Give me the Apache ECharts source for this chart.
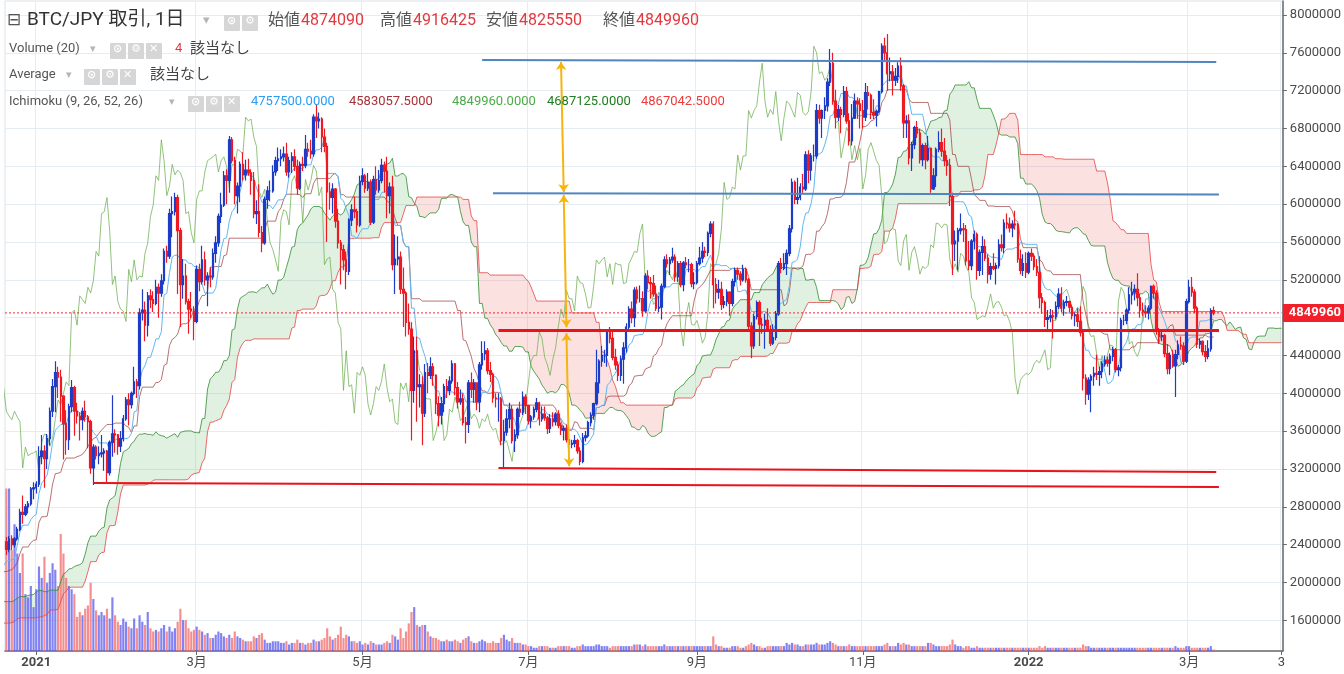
<!DOCTYPE html>
<html><head><meta charset="utf-8">
<script src="https://cdn.jsdelivr.net/npm/echarts@6/dist/echarts.min.js"></script>
<style>html,body{margin:0;padding:0;background:#fff}#c{width:1344px;height:674px}</style>
</head><body><div id="c"></div>
<script>
// ---------- DATA (prices in 万円 = 10,000 JPY) ----------
const startDate = '2020-10-05';
const visibleFrom = '2020-12-21';
const close = [
114,112,113,115,117,119,120,122,121,121,121,119,120,121,124,126,135,137,136,138,138,138,144,140,142,143,145,
144,142,147,148,163,163,155,162,160,160,164,170,171,168,167,175,184,186,186,195,196,193,192,200,196,179,179,185,190,205,
195,199,202,194,198,201,199,190,192,189,187,195,199,200,201,221,236,240,247,243,
235,246,240,246,256,274,272,280,283,299,300,
304,333,339,331,352,381,407,422,417,397,368,351,386,406,381,376,372,381,375,370,321,343,334,336,337,339,316,348,357,356,344,
352,373,393,388,400,412,408,485,488,472,503,499,495,512,506,519,550,545,590,592,607,572,515,524,497,489,487,476,
531,518,541,520,524,523,548,559,587,599,630,625,668,646,609,619,642,631,636,633,625,590,592,570,559,605,614,614,634,646,648,
650,653,634,646,650,640,617,642,641,658,656,653,692,688,690,671,661,613,607,616,582,559,552,541,529,583,594,592,578,624,
630,617,623,581,626,615,625,641,635,609,618,536,542,544,510,506,475,468,403,445,407,409,379,422,419,428,419,389,377,389,407,
403,413,431,406,391,394,369,367,411,404,411,391,430,442,445,424,420,395,394,394,350,359,373,383,350,356,383,380,396,387,
371,375,383,390,373,378,374,363,373,370,378,366,361,363,351,346,347,350,339,328,353,355,369,377,389,411,434,440,440,465,458,
438,430,419,436,448,470,489,480,509,500,500,487,524,517,516,505,490,491,513,541,537,541,544,523,537,515,538,536,536,516,517,
537,543,550,549,569,579,515,507,510,494,497,507,495,518,530,526,520,531,520,471,450,481,496,473,472,477,467,453,459,484,
537,532,537,548,574,623,605,607,618,616,652,636,651,651,699,691,699,704,729,749,709,692,700,695,719,688,667,691,709,706,699,
692,718,715,697,694,698,719,767,760,738,740,731,735,746,725,686,688,649,663,681,675,647,662,647,659,616,630,658,665,656,
646,641,608,558,561,572,574,573,540,535,561,568,530,549,555,543,526,534,532,535,557,554,580,579,575,579,578,542,530,537,528,
548,545,534,528,501,496,478,480,482,481,492,505,490,496,497,491,482,483,476,464,416,399,414,418,421,420,423,431,435,432,439,
446,425,427,477,477,488,504,507,510,501,488,486,485,490,513,506,466,460,461,442,426,440,429,441,451,450,434,497,
512,507,490,452,455,444,439,447,487.409,484.996
];
const high = [
116,116,115,117,119,121,122,124,124,123,123,123,122,123,126,128,137,139,139,140,140,141,146,146,144,145,147,
148,147,150,151,166,167,166,165,166,163,167,173,174,174,171,178,187,190,189,198,200,199,197,203,204,199,184,188,193,208,
208,202,205,205,201,204,204,202,195,195,192,198,202,203,204,224,240,244,251,250,
248,249,250,248,259,278,292,283,286,301,306,
307,344,356,345,357,385,415,434,428,425,398,382,389,414,408,390,380,385,392,377,372,346,345,344,356,342,340,350,398,362,357,
360,377,396,400,402,428,415,490,510,497,507,510,508,520,516,526,553,556,595,608,612,610,575,542,537,500,507,492,
535,537,556,550,528,533,553,566,590,612,635,637,672,671,650,623,645,655,647,648,637,634,604,621,577,608,619,625,641,650,660,
658,661,665,650,655,658,647,645,650,673,665,668,695,705,697,692,680,665,623,622,617,595,562,557,550,585,600,608,595,630,
638,632,633,626,630,640,636,648,645,650,623,630,568,566,550,533,508,495,475,460,460,420,418,431,432,438,432,420,397,396,410,
415,418,435,432,412,404,400,375,414,422,415,411,433,455,455,448,433,422,400,400,396,372,383,390,387,362,385,391,402,399,
388,377,386,395,391,386,386,376,378,380,380,382,369,366,367,356,351,356,352,343,358,360,371,380,390,446,436,450,446,468,470,
465,447,434,440,454,474,492,497,512,513,514,508,527,530,523,525,514,503,516,545,547,544,554,547,540,540,540,544,542,538,528,
540,555,560,555,571,582,582,522,520,518,503,510,508,521,533,533,529,536,533,522,475,484,498,498,480,484,490,472,473,487,
540,543,548,552,578,627,625,628,622,632,656,657,654,663,706,705,700,713,733,764,760,721,705,703,725,724,696,706,717,713,712,
710,728,725,717,711,700,720,770,776,780,755,747,744,750,755,727,694,695,666,683,688,680,664,665,672,660,638,660,677,680,
670,652,648,612,572,575,590,580,578,561,563,572,570,552,566,563,547,538,548,538,563,568,584,590,586,583,593,580,552,547,549,
550,553,548,542,545,506,498,488,489,488,497,511,512,499,503,498,494,486,490,492,466,420,417,420,428,441,428,434,440,439,442,
449,448,430,480,483,490,512,518,515,527,505,496,493,493,514,515,509,469,465,463,452,443,446,446,456,460,454,500,
520,523,510,492,458,456,451,456,490,491.6425
];
const low = [
112,110,110,111,113,115,117,118,119,119,119,117,117,119,119,122,124,133,134,134,136,135,136,138,138,140,141,
141,139,139,144,145,159,152,152,157,157,157,161,167,165,164,164,172,181,183,183,192,190,189,189,193,172,174,176,182,187,
190,192,196,191,191,195,196,187,185,186,183,185,193,196,197,199,219,232,237,238,
229,232,234,237,244,254,262,270,273,281,288,
294,301,325,300,320,345,375,380,395,370,330,335,340,380,355,368,350,361,370,342,315,303,330,325,332,318,306,313,333,337,335,
338,349,371,366,384,398,395,404,477,455,460,490,486,493,480,502,515,538,542,565,588,505,470,500,494,463,480,456,
474,508,515,514,492,512,520,538,555,580,597,600,612,643,600,590,602,625,625,630,610,585,579,565,549,557,595,603,612,630,635,
640,645,630,628,633,635,610,615,635,638,650,648,650,670,680,655,655,560,594,590,575,553,515,530,510,525,577,585,570,576,
620,612,614,578,579,610,612,622,612,585,590,530,505,535,505,470,460,462,350,390,370,385,345,375,400,415,408,378,365,367,380,
395,398,410,398,384,388,366,347,358,395,390,382,380,425,435,420,412,390,385,370,345,320,355,363,347,338,352,375,377,378,
367,363,372,380,366,370,371,357,358,365,366,363,356,350,348,342,342,343,336,324,326,349,353,365,372,387,400,428,432,428,453,
435,425,413,413,410,443,465,474,470,495,496,481,485,510,500,502,487,486,478,511,533,525,538,518,518,512,508,532,528,512,510,
515,535,538,544,545,565,490,495,500,488,490,492,482,492,513,520,514,518,517,465,437,447,478,450,463,447,465,450,451,456,
482,527,530,525,545,570,600,600,604,612,614,622,625,645,648,685,670,690,698,725,705,680,688,675,692,685,662,662,690,690,680,
680,688,700,690,690,682,696,717,752,720,730,715,725,728,720,670,670,642,635,658,670,643,640,637,645,612,615,618,655,650,
640,630,598,525,540,530,568,560,535,530,530,552,520,524,525,540,516,520,530,515,532,550,548,574,570,565,573,538,526,524,522,
526,540,530,524,490,484,470,466,475,458,478,489,486,482,492,486,478,471,470,460,403,388,393,380,408,414,408,416,428,428,419,
434,422,418,423,472,473,484,494,498,492,480,482,480,478,488,500,462,452,455,438,420,420,427,396,436,446,430,432,
495,502,485,448,447,440,433,436,444,482.555
];
// relative volume (100 = tallest bar), from 2020-12-21
const volume = [
100,100,62,78,60,48,60,35,33,40,27,
38,52,45,58,42,48,54,50,40,72,60,45,40,38,35,21,24,22,26,28,42,32,25,22,24,22,26,20,33,22,18,
16,20,18,15,14,20,14,22,18,16,24,14,12,13,12,14,16,12,15,12,14,18,26,19,19,14,12,13,
15,13,12,10,11,8,8,10,12,11,9,8,10,8,12,9,8,7,6,6,6,9,8,10,11,7,5,5,6,6,6,
5,5,6,4,5,5,7,5,5,4,5,5,7,6,6,7,8,14,9,7,8,10,15,8,10,9,6,6,5,6,
4,5,4,6,5,4,4,4,5,6,5,10,9,7,14,8,12,17,24,27,16,15,16,16,12,9,8,8,7,6,6,
7,6,6,7,6,5,7,8,9,6,5,5,6,7,6,5,5,6,5,5,8,10,7,6,8,5,5,5,4,4,
3,3,2,2,3,3,3,3,2,2,2,3,3,3,3,3,2,2,3,3,4,3,3,3,3,4,4,3,3,3,2,
3,3,3,3,3,3,3,3,4,4,4,3,4,3,3,3,3,3,3,4,3,3,3,3,3,3,3,3,3,3,3,
3,3,3,3,3,3,9,4,3,3,2,2,2,3,3,3,2,2,3,4,5,4,3,3,2,2,3,3,3,3,
3,3,3,5,4,5,4,4,3,3,4,4,4,4,5,4,4,4,5,6,5,4,3,3,3,3,4,3,3,3,3,
3,3,3,3,3,3,3,3,4,5,3,3,3,5,4,5,4,4,3,3,3,3,3,3,5,5,4,3,3,3,
3,3,4,7,4,3,3,2,3,3,2,2,3,2,2,2,2,2,2,2,2,2,2,2,2,2,2,2,2,2,2,
2,2,2,2,3,2,3,2,2,2,2,2,2,2,2,2,2,2,2,2,4,3,3,2,2,2,2,2,2,2,2,
2,2,2,2,2,2,2,2,2,2,2,2,2,2,2,2,2,2,2,2,2,2,2,3,2,2,2,3,
3,2,2,2,2,2,2,2,3,1
];
const yTicks = [1600000,2000000,2400000,2800000,3200000,3600000,4000000,4400000,4800000,5200000,5600000,6000000,6400000,6800000,7200000,7600000,8000000];
const xTickDates  = ['2021-01-01','2021-03-01','2021-05-01','2021-07-01','2021-09-01','2021-11-01','2022-01-01','2022-03-01','2022-04-04'];
const xTickLabels = ['2021','3月','5月','7月','9月','11月','2022','3月','3'];
const lastPrice = 4849960;
const headerOHLC = [['始値','4874090'],['高値','4916425'],['安値','4825550'],['終値','4849960']];
const ichimokuVals = ['4757500.0000','4583057.5000','4849960.0000','4687125.0000','4867042.5000'];
// user-drawn lines: [date, price] endpoints
const blueLines = [
  [['2021-06-14',7523000],['2022-03-11',7502000]],
  [['2021-06-18',6114000],['2022-03-12',6103000]]
];
const redLines = [
  [['2021-06-20',4662000],['2022-03-12',4662000],3],
  [['2021-06-20',3210000],['2022-03-11',3168000],2],
  [['2021-01-22',3052000],['2022-03-12',3009000],2]
];
const arrows = [
  [['2021-07-13',7503000],['2021-07-14',6128000]],
  [['2021-07-14',6096000],['2021-07-15',4699000]],
  [['2021-07-15',4636000],['2021-07-16',3229000]]
];

// ---------- BUILD ----------
const U = 10000, SHIFT = 25;
const N = close.length, T = N + SHIFT;
const dates = [];
{ let d = new Date(startDate + 'T00:00:00Z'); for (let i = 0; i < T; i++) { dates.push(d.toISOString().slice(0,10)); d.setUTCDate(d.getUTCDate()+1); } }
const vStart = dates.indexOf(visibleFrom);
const O = close.map((c,i)=> i ? close[i-1] : c);
const Hh = high.map((h,i)=> Math.max(h, O[i], close[i]));
const Ll = low.map((l,i)=> Math.min(l, O[i], close[i]));
const candleData = [];
for (let i = 0; i < T; i++) candleData.push(i < N ? [Math.round(O[i]*U), Math.round(close[i]*U), Math.round(Ll[i]*U), Math.round(Hh[i]*U)] : '-');
function midRange(i, n) {
  if (i < n - 1) return null;
  let hh = -Infinity, ll = Infinity;
  for (let k = i - n + 1; k <= i; k++) { if (Hh[k] > hh) hh = Hh[k]; if (Ll[k] < ll) ll = Ll[k]; }
  return (hh + ll) / 2 * U;
}
const nul = () => new Array(T).fill(null);
const tenkan = nul(), kijun = nul(), spanA = nul(), spanB = nul(), chikou = nul();
for (let i = 0; i < N; i++) {
  tenkan[i] = midRange(i, 9); kijun[i] = midRange(i, 26);
  if (tenkan[i] != null && kijun[i] != null) spanA[i+SHIFT] = (tenkan[i] + kijun[i]) / 2;
  const b = midRange(i, 52); if (b != null) spanB[i+SHIFT] = b;
  if (i >= SHIFT) chikou[i-SHIFT] = close[i] * U;
}
const cloudBase = spanA.map((a,i)=> (a!=null && spanB[i]!=null) ? Math.min(a, spanB[i]) : null);
const cloudGreen = spanA.map((a,i)=> cloudBase[i]==null ? null : Math.max(0, a - spanB[i]));
const cloudRed = spanA.map((a,i)=> cloudBase[i]==null ? null : Math.max(0, spanB[i] - a));
const volData = new Array(T).fill(null);
for (let j = 0; j < volume.length; j++) {
  const i = vStart + j; if (i >= N) break;
  const up = close[i] >= O[i];
  volData[i] = { value: volume[j], itemStyle: { color: up ? 'rgba(95,95,240,0.78)' : 'rgba(242,105,105,0.75)' } };
}
const priceLine = new Array(T).fill(lastPrice);
const tickSet = {}; xTickDates.forEach((d,k)=> tickSet[d] = xTickLabels[k]);
const isTick = (idx, val) => tickSet[val] !== undefined;

const FONT = "Roboto, 'Noto Sans CJK JP', sans-serif";
const UP = '#1c3cc8', DOWN = '#ee1a22';

const trendMarks = [];
blueLines.forEach(l => trendMarks.push([{coord:l[0], lineStyle:{color:'#4f86c0', width:2, type:'solid'}}, {coord:l[1]}]));
redLines.forEach(l => trendMarks.push([{coord:l[0], lineStyle:{color:'#e8141c', width:l[2], type:'solid'}}, {coord:l[1]}]));
arrows.forEach(l => trendMarks.push([{coord:l[0], symbol:'arrow', symbolSize:8, lineStyle:{color:'#f6b40e', width:2, type:'solid'}}, {coord:l[1], symbol:'arrow', symbolSize:8}]));

function lineSeries(name, data, color, z) {
  return { name, type:'line', data, symbol:'none', silent:true, z: z||3, lineStyle:{color, width:1}, itemStyle:{color}, emphasis:{disabled:true} };
}
function bandSeries(stack, data, fill) {
  const s = { type:'line', stack, data, symbol:'none', silent:true, z:1, lineStyle:{width:0, opacity:0}, emphasis:{disabled:true} };
  if (fill) s.areaStyle = { color: fill, opacity: 1 };
  return s;
}

// header graphics
const graphics = [];
function txt(x, y, text, color, size, weight) {
  graphics.push({ type:'text', left:x, top:y - size*0.65, z:100, silent:true,
    style:{ text, fill:color, font:(weight||'normal') + ' ' + size + 'px ' + FONT } });
}
function icons(x, y, glyphs) {
  glyphs.forEach((g,k)=> {
    const gx = x + k*18;
    graphics.push({ type:'rect', left:gx, top:y-8, z:100, silent:true, shape:{width:16,height:16,r:1}, style:{fill:'#d6d6d6'} });
    graphics.push({ type:'text', left:gx+3, top:y-7, z:101, silent:true, style:{ text:g, fill:'#fff', font:'bold 11px DejaVu Sans' } });
  });
}
txt(7, 23, '⊟', '#555', 17);
txt(27, 23, 'BTC/JPY 取引, 1日', '#333', 19);
txt(203, 23, '▾', '#b5b5b5', 13);
icons(224, 23, ['⊙','⚙']);
[268, 380, 486, 603].forEach((x,k)=> { txt(x, 23, headerOHLC[k][0], '#555', 16); txt(x+33, 23, headerOHLC[k][1], '#e2393f', 16); });
txt(9, 51, 'Volume (20)', '#555', 13); txt(90, 51, '▾', '#b5b5b5', 11); icons(110, 51, ['⊙','⚙','✕']);
txt(175, 51, '4', '#e2393f', 13); txt(190, 51, '該当なし', '#444', 15);
txt(9, 77, 'Average', '#555', 13); txt(66, 77, '▾', '#b5b5b5', 11); icons(84, 77, ['⊙','⚙','✕']);
txt(150, 77, '該当なし', '#444', 15);
txt(9, 104, 'Ichimoku (9, 26, 52, 26)', '#555', 13); txt(169, 104, '▾', '#b5b5b5', 11); icons(188, 104, ['⊙','⚙','✕']);
const ichColors = ['#2a9df4','#a8323a','#4caa48','#1f7d1f','#ee3b3b'];
[251, 349, 452, 547, 641].forEach((x,k)=> txt(x, 104, ichimokuVals[k], ichColors[k], 13));

const option = {
  animation:false,
  backgroundColor:'#ffffff',
  textStyle:{ fontFamily: FONT },
  grid:{ left:5, right:61, top:1, bottom:23, show:true, borderColor:'#dde3e9', borderWidth:1 },
  xAxis:{ type:'category', data:dates, min:vStart, max:T-1, boundaryGap:true,
    axisLine:{ lineStyle:{ color:'#6a6a6a', width:1.5 } },
    axisTick:{ show:true, alignWithLabel:true, interval:isTick, length:4, lineStyle:{ color:'#6a6a6a' } },
    axisLabel:{ interval:isTick, showMinLabel:true, showMaxLabel:true, color:'#4a4a4a', fontSize:13, fontFamily:FONT, margin:5,
      formatter:(v)=> { const t = tickSet[v]; if (t===undefined) return ''; return /^\d{4}$/.test(t) ? '{y|'+t+'}' : t; },
      rich:{ y:{ fontWeight:'bold', fontSize:13, color:'#4a4a4a', fontFamily:FONT } } },
    splitLine:{ show:true, interval:isTick, lineStyle:{ color:'#e5ecf2' } }
  },
  yAxis:[
    { type:'value', position:'right', min:1275000, max:8148000,
      axisLine:{ show:true, lineStyle:{ color:'#6a6a6a', width:1.5 } },
      axisTick:{ show:true, customValues:yTicks, length:4, lineStyle:{ color:'#6a6a6a' } },
      axisLabel:{ customValues:yTicks, color:'#4a4a4a', fontSize:13, fontFamily:FONT, margin:7, formatter:(v)=> String(Math.round(v)) },
      splitLine:{ show:true, lineStyle:{ color:'#e5ecf2' } } },
    { type:'value', min:0, max:400, show:false, splitLine:{show:false} }
  ],
  graphic: graphics,
  series:[
    bandSeries('g', cloudBase, null),
    bandSeries('g', cloudGreen, 'rgba(90,180,90,0.18)'),
    bandSeries('r', cloudBase, null),
    bandSeries('r', cloudRed, 'rgba(240,90,90,0.18)'),
    { type:'bar', yAxisIndex:1, data:volData, barWidth:'80%', silent:true, z:2, emphasis:{disabled:true} },
    lineSeries('SenkouA', spanA, 'rgba(50,140,50,0.8)', 3),
    lineSeries('SenkouB', spanB, 'rgba(228,70,70,0.8)', 3),
    lineSeries('Chikou', chikou, 'rgba(110,175,80,0.75)', 3),
    lineSeries('Kijun', kijun, 'rgba(160,60,60,0.72)', 3),
    Object.assign(lineSeries('Tenkan', tenkan, '#62b7f0', 3), {
      markLine:{ silent:true, symbol:'none', animation:false, label:{show:false}, data: trendMarks }
    }),
    { type:'candlestick', data:candleData, barWidth:'72%', z:4, silent:true,
      itemStyle:{ color:UP, color0:DOWN, borderColor:UP, borderColor0:DOWN, borderWidth:1.2 } },
    { name:'LastPrice', type:'line', data:priceLine, symbol:'none', silent:true, z:6, emphasis:{disabled:true},
      lineStyle:{ color:'#f0202a', width:1, type:[2,2] }, itemStyle:{ color:'#f0202a' },
      markLine:{ silent:true, symbol:'none', animation:false, z:10,
        lineStyle:{ color:'rgba(240,32,42,0)', width:1, type:'solid' },
        label:{ show:true, position:'end', distance:0, formatter: String(lastPrice), color:'#ffffff', fontWeight:'bold', fontSize:13, fontFamily:FONT, backgroundColor:'#f2202a', padding:[3,6,2,6] },
        data:[ { yAxis:lastPrice } ] } }
  ]
};
const chart = echarts.init(document.getElementById('c'), null, { renderer:'canvas' });
chart.setOption(option);
</script>
</body></html>
